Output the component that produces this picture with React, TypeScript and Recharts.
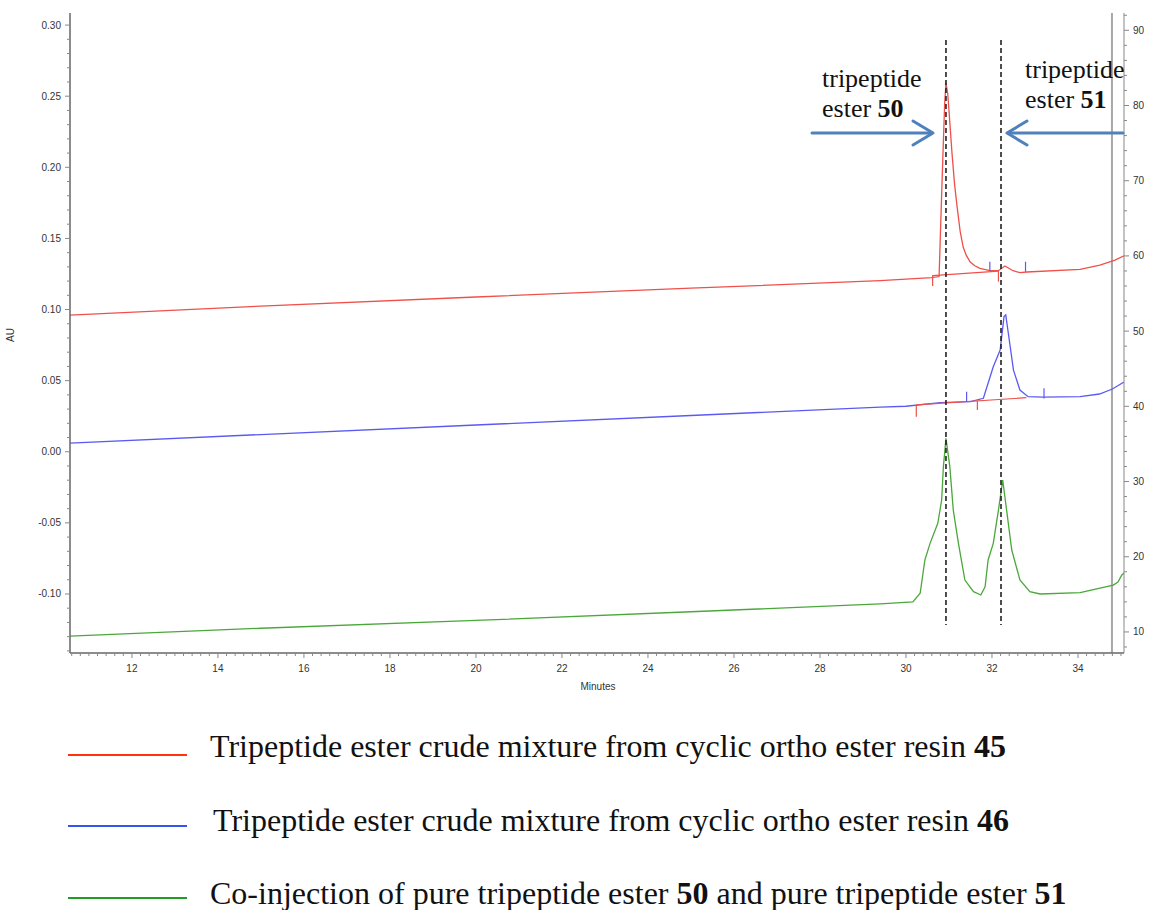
import { LineChart, Line, XAxis, YAxis, ReferenceLine } from "recharts"

// retention time (min) vs absorbance (AU)
const redTrace = [
  { m: 10.56, v: 0.0961 }, { m: 15, v: 0.1024 }, { m: 20, v: 0.1088 }, { m: 25, v: 0.115 },
  { m: 29.4, v: 0.1203 }, { m: 30.6, v: 0.1225 }, { m: 30.77, v: 0.1232 }, { m: 30.84, v: 0.191 },
  { m: 30.9, v: 0.245 }, { m: 30.93, v: 0.2592 }, { m: 30.97, v: 0.252 }, { m: 31.0, v: 0.24 },
  { m: 31.07, v: 0.21 }, { m: 31.13, v: 0.188 }, { m: 31.19, v: 0.172 }, { m: 31.26, v: 0.155 },
  { m: 31.33, v: 0.1439 }, { m: 31.4, v: 0.1382 }, { m: 31.49, v: 0.1336 }, { m: 31.6, v: 0.1308 },
  { m: 31.72, v: 0.1289 }, { m: 31.95, v: 0.1273 }, { m: 32.15, v: 0.1273 }, { m: 32.3, v: 0.1306 },
  { m: 32.49, v: 0.1273 }, { m: 32.65, v: 0.1259 }, { m: 32.81, v: 0.1264 }, { m: 34.05, v: 0.1283 },
  { m: 34.51, v: 0.1313 }, { m: 34.86, v: 0.1348 }, { m: 35.07, v: 0.1378 },
]

const blueTrace = [
  { m: 10.56, v: 0.0061 }, { m: 15, v: 0.0121 }, { m: 20, v: 0.0188 }, { m: 25, v: 0.0255 },
  { m: 29.4, v: 0.0314 }, { m: 30, v: 0.032 }, { m: 30.8, v: 0.0345 }, { m: 31.5, v: 0.0352 },
  { m: 31.8, v: 0.0376 }, { m: 32.03, v: 0.0598 }, { m: 32.19, v: 0.0715 }, { m: 32.28, v: 0.095 },
  { m: 32.32, v: 0.0962 }, { m: 32.38, v: 0.0833 }, { m: 32.5, v: 0.0574 }, { m: 32.65, v: 0.0434 },
  { m: 32.84, v: 0.0387 }, { m: 33.19, v: 0.0384 }, { m: 34.05, v: 0.0387 }, { m: 34.5, v: 0.0406 },
  { m: 34.8, v: 0.0441 }, { m: 35.07, v: 0.049 },
]

const greenTrace = [
  { m: 10.56, v: -0.1296 }, { m: 15, v: -0.1241 }, { m: 20, v: -0.1186 }, { m: 25, v: -0.1125 },
  { m: 29.4, v: -0.107 }, { m: 30.16, v: -0.1056 }, { m: 30.33, v: -0.0995 }, { m: 30.44, v: -0.0761 },
  { m: 30.56, v: -0.0644 }, { m: 30.74, v: -0.0503 }, { m: 30.83, v: -0.0339 }, { m: 30.87, v: -0.0105 },
  { m: 30.93, v: 0.0094 }, { m: 31.02, v: -0.0105 }, { m: 31.1, v: -0.041 }, { m: 31.22, v: -0.0644 },
  { m: 31.37, v: -0.0902 }, { m: 31.57, v: -0.0984 }, { m: 31.74, v: -0.1007 }, { m: 31.84, v: -0.0949 },
  { m: 31.91, v: -0.0761 }, { m: 32.03, v: -0.0644 }, { m: 32.15, v: -0.041 }, { m: 32.25, v: -0.0199 },
  { m: 32.34, v: -0.041 }, { m: 32.46, v: -0.0691 }, { m: 32.65, v: -0.0902 }, { m: 32.88, v: -0.0984 },
  { m: 33.12, v: -0.1 }, { m: 34.05, v: -0.0991 }, { m: 34.82, v: -0.0937 }, { m: 34.93, v: -0.0916 },
  { m: 35.02, v: -0.0866 }, { m: 35.07, v: -0.0852 },
]

// integration baselines drawn by the software
const redBaselineTop = [{ m: 30.62, v: 0.1238 }, { m: 32.15, v: 0.127 }]
const redBaselineLow = [{ m: 30.24, v: 0.0329 }, { m: 32.8, v: 0.038 }]

// peak start/end markers: [time, from, to]
const redMarks = [
  [30.62, 0.1243, 0.1165], [32.15, 0.1273, 0.1196],
  [30.24, 0.0329, 0.0246], [31.66, 0.0359, 0.0293],
]
const blueMarks = [
  [31.95, 0.1273, 0.1336], [32.78, 0.1266, 0.1336],
  [31.41, 0.0352, 0.0422], [33.21, 0.0375, 0.0446],
]

const peakTimes = [30.93, 32.21]
const injectionEnd = 34.79

const xDomain = [10.56, 35.07]
const yDomain = [-0.1415, 0.3085]
const y2Domain = [7.2, 92.3]

const xTicks: number[] = []
for (let i = 53; i <= 175; i++) xTicks.push(i / 5)
const yTicks: number[] = []
for (let i = -14; i <= 30; i++) yTicks.push(i / 100)
const y2Ticks: number[] = []
for (let i = 8; i <= 92; i += 2) y2Ticks.push(i)

const legendItems = [
  { color: "#ff3311", text: "Tripeptide ester crude mixture from cyclic ortho ester resin ", bold: ["45"] },
  { color: "#3355ee", text: "Tripeptide ester crude mixture from cyclic ortho ester resin ", bold: ["46"] },
]

const RED = "#f0504a"
const BLUE = "#5a5af2"
const GREEN = "#4aa83a"
const AXIS = "#666"
const TICK_FONT = { fontFamily: "Liberation Sans, Arial, sans-serif", fontSize: 10, fill: "#333" }

function XTick({ x, y, payload }: any) {
  const v = payload.value
  const major = Math.abs(v / 2 - Math.round(v / 2)) < 1e-6
  return (
    <g>
      <line x1={x} x2={x} y1={y} y2={y + (major ? 5 : 3)} stroke="#888" />
      {major && (
        <text x={x} y={y + 19} textAnchor="middle" {...TICK_FONT}>
          {Math.round(v)}
        </text>
      )}
    </g>
  )
}

function YTick({ x, y, payload }: any) {
  const i = Math.round(payload.value * 100)
  const major = i % 5 === 0
  return (
    <g>
      <line x1={x - (major ? 5 : 3)} x2={x} y1={y} y2={y} stroke="#888" />
      {major && (
        <text x={x - 9} y={y + 3.5} textAnchor="end" {...TICK_FONT}>
          {(i / 100).toFixed(2)}
        </text>
      )}
    </g>
  )
}

function Y2Tick({ x, y, payload }: any) {
  const major = payload.value % 10 === 0
  return (
    <g>
      <line x1={x} x2={x + (major ? 5 : 3)} y1={y} y2={y} stroke="#888" />
      {major && (
        <text x={x + 9} y={y + 3.5} textAnchor="start" {...TICK_FONT}>
          {payload.value}
        </text>
      )}
    </g>
  )
}

export default function App() {
  return (
    <div style={{ position: "absolute", left: 0, top: 0, width: 1149, height: 910, background: "#fff" }}>
      <div style={{ position: "absolute", left: 0, top: 0 }}>
        <LineChart width={1149} height={700} margin={{ top: 13, right: 0, left: 0, bottom: 0 }}>
          <XAxis
            type="number"
            dataKey="m"
            domain={xDomain}
            allowDataOverflow
            ticks={xTicks}
            interval={0}
            tick={<XTick />}
            tickLine={false}
            tickSize={0}
            tickMargin={0}
            height={47}
            axisLine={{ stroke: AXIS, strokeWidth: 1.5 }}
          />
          <XAxis
            xAxisId="top"
            orientation="top"
            type="number"
            domain={xDomain}
            allowDataOverflow
            tick={false}
            tickLine={false}
            height={0}
            axisLine={{ stroke: "#888", strokeWidth: 1 }}
          />
          <YAxis
            type="number"
            domain={yDomain}
            allowDataOverflow
            ticks={yTicks}
            interval={0}
            tick={<YTick />}
            tickLine={false}
            tickSize={0}
            tickMargin={0}
            width={70}
            axisLine={{ stroke: AXIS, strokeWidth: 1.5 }}
          />
          <YAxis
            yAxisId="right"
            orientation="right"
            type="number"
            domain={y2Domain}
            allowDataOverflow
            ticks={y2Ticks}
            interval={0}
            tick={<Y2Tick />}
            tickLine={false}
            tickSize={0}
            tickMargin={0}
            width={25}
            axisLine={{ stroke: "#888", strokeWidth: 1 }}
          />

          <ReferenceLine x={injectionEnd} stroke="#a8a8a8" strokeWidth={2} />

          <Line data={redTrace} dataKey="v" stroke={RED} strokeWidth={1.3} dot={false} isAnimationActive={false} />
          <Line data={redBaselineTop} dataKey="v" stroke={RED} strokeWidth={1.2} dot={false} isAnimationActive={false} />
          <Line data={blueTrace} dataKey="v" stroke={BLUE} strokeWidth={1.3} dot={false} isAnimationActive={false} />
          <Line data={redBaselineLow} dataKey="v" stroke={RED} strokeWidth={1.2} dot={false} isAnimationActive={false} />
          <Line data={greenTrace} dataKey="v" stroke={GREEN} strokeWidth={1.3} dot={false} isAnimationActive={false} />

          {redMarks.map(([m, a, b], i) => (
            <Line
              key={`rm-${i}`}
              data={[{ m, v: a }, { m, v: b }]}
              dataKey="v"
              stroke={RED}
              strokeWidth={1.2}
              dot={false}
              isAnimationActive={false}
            />
          ))}
          {blueMarks.map(([m, a, b], i) => (
            <Line
              key={`bm-${i}`}
              data={[{ m, v: a }, { m, v: b }]}
              dataKey="v"
              stroke={BLUE}
              strokeWidth={1.2}
              dot={false}
              isAnimationActive={false}
            />
          ))}

          {peakTimes.map((t) => (
            <ReferenceLine
              key={t}
              segment={[{ x: t, y: 0.2895 }, { x: t, y: -0.1218 }]}
              stroke="#222"
              strokeWidth={1.6}
              strokeDasharray="5 3"
            />
          ))}
        </LineChart>
      </div>

      <svg
        width={1149}
        height={910}
        style={{ position: "absolute", left: 0, top: 0, pointerEvents: "none" }}
      >
        <text x={14} y={335} transform="rotate(-90 14 335)" textAnchor="middle" {...TICK_FONT}>
          AU
        </text>
        <text x={598} y={690} textAnchor="middle" {...TICK_FONT}>
          Minutes
        </text>

        <g fontFamily="Liberation Serif, Times New Roman, serif" fontSize={26} fill="#111">
          <text x={822} y={87}>tripeptide</text>
          <text x={822} y={117}>
            ester <tspan fontWeight="bold">50</tspan>
          </text>
          <text x={1025} y={78}>tripeptide</text>
          <text x={1025} y={108}>
            ester <tspan fontWeight="bold">51</tspan>
          </text>
        </g>

        <g stroke="#4f81bd" strokeWidth={3} fill="none" strokeLinecap="round" strokeLinejoin="round">
          <line x1={812} y1={133} x2={931} y2={133} />
          <polyline points="913,121 933,133 913,145" />
          <line x1={1123} y1={133} x2={1009} y2={133} />
          <polyline points="1027,121 1007,133 1027,145" />
        </g>

        <g fontFamily="Liberation Serif, Times New Roman, serif" fontSize={32} fill="#111">
          <line x1={68} x2={187} y1={755} y2={755} stroke={legendItems[0].color} strokeWidth={2} />
          <text x={210} y={757}>
            {legendItems[0].text}
            <tspan fontWeight="bold">{legendItems[0].bold[0]}</tspan>
          </text>
          <line x1={68} x2={187} y1={826} y2={826} stroke={legendItems[1].color} strokeWidth={2} />
          <text x={213} y={831}>
            {legendItems[1].text}
            <tspan fontWeight="bold">{legendItems[1].bold[0]}</tspan>
          </text>
          <line x1={68} x2={187} y1={898} y2={898} stroke="#1f9e1f" strokeWidth={2} />
          <text x={210} y={904}>
            Co-injection of pure tripeptide ester <tspan fontWeight="bold">50</tspan> and pure tripeptide ester{" "}
            <tspan fontWeight="bold">51</tspan>
          </text>
        </g>
      </svg>
    </div>
  )
}
